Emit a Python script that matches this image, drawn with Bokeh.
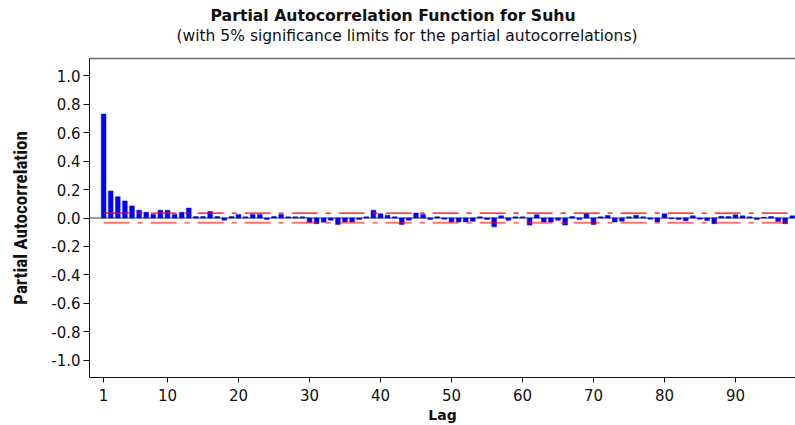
from bokeh.plotting import figure
from bokeh.models import Title, Span, LinearAxis, FixedTicker, Range1d, CustomJSTickFormatter
from bokeh.embed import file_html
from bokeh.resources import INLINE

# ---- data ----
lags = list(range(1, 99))
pacf = [0.73, 0.19, 0.15, 0.12, 0.085, 0.055, 0.04, 0.025, 0.055, 0.055,
        0.025, 0.04, 0.07, 0.01, 0.01, 0.045, 0.01, -0.015, 0.01, 0.025,
        0.008, 0.025, 0.025, -0.01, 0.01, 0.025, 0.008, 0.008, 0.008, -0.03,
        -0.04, -0.03, -0.015, -0.045, -0.028, -0.028, -0.01, 0.008, 0.055, 0.03,
        0.02, 0.008, -0.045, -0.015, 0.035, 0.025, -0.01, 0.008, -0.008, -0.028,
        -0.028, -0.028, -0.023, 0.008, -0.01, -0.062, 0.015, -0.016, 0.008, 0.008,
        -0.05, 0.023, -0.028, -0.028, -0.016, -0.05, 0.01, -0.01, 0.03, -0.045,
        0.008, 0.018, -0.028, -0.023, 0.008, 0.02, 0.008, -0.008, -0.028, 0.03,
        -0.005, -0.01, -0.02, 0.015, -0.008, -0.018, -0.04, 0.012, 0.01, 0.022,
        0.015, 0.008, -0.01, 0.005, 0.01, -0.025, -0.04, 0.015]
sig_limit = 0.034
x_ticks = [1, 10, 20, 30, 40, 50, 60, 70, 80, 90]
y_ticks = [-1.0, -0.8, -0.6, -0.4, -0.2, 0.0, 0.2, 0.4, 0.6, 0.8, 1.0]
title_text = "Partial Autocorrelation Function for Suhu"
subtitle_text = "(with 5% significance limits for the partial autocorrelations)"
x_label = "Lag"
y_label = "Partial Autocorrelation"

x_end = 98.45
p = figure(width=795, height=425, output_backend="svg", toolbar_location=None,
           x_range=Range1d(-0.99, x_end), y_range=Range1d(-1.12, 1.12),
           min_border_left=89, min_border_right=0, min_border_bottom=45,
           min_border_top=58)
p.title = None
p.outline_line_color = None
p.grid.visible = False
p.background_fill_color = "white"
p.border_fill_color = "white"

# zero reference line
p.add_layout(Span(location=0, dimension="width", line_color="#7a7a7a",
                  line_width=1.5, level="underlay"))

# bars
p.vbar(x=lags, top=pacf, bottom=0, width=0.66, fill_color="#0000ff",
       line_color="#0000ff", line_width=0.5)

# significance limits
p.line(x=[lags[0], x_end], y=[sig_limit, sig_limit], line_color="#ff0000",
       line_width=1.3, line_dash="26 8 5 8")
p.line(x=[lags[0], x_end], y=[-sig_limit, -sig_limit], line_color="#ff0000",
       line_alpha=0.55, line_width=2, line_dash="26 8 5 8")

# axes
xa = p.xaxis[0]
xa.ticker = FixedTicker(ticks=x_ticks)
xa.axis_label = x_label
xa.axis_label_text_font = "DejaVu Sans"
xa.axis_label_text_font_style = "bold"
xa.axis_label_text_font_size = "14px"
xa.axis_label_text_color = "#111111"
xa.axis_label_standoff = 3
xa.major_label_text_font = "DejaVu Sans"
xa.major_label_text_font_size = "15px"
xa.major_label_text_color = "#111111"
xa.major_label_standoff = 6
xa.major_tick_in = 0
xa.major_tick_out = 5
xa.minor_tick_line_color = None
xa.axis_line_color = "#111111"
xa.major_tick_line_color = "#111111"

ya = p.yaxis[0]
ya.ticker = FixedTicker(ticks=y_ticks)
ya.formatter = CustomJSTickFormatter(code="return tick.toFixed(1);")
ya.axis_label = y_label
ya.axis_label_text_font = "Roboto Condensed"
ya.axis_label_text_font_style = "bold"
ya.axis_label_text_font_size = "19px"
ya.axis_label_text_color = "#111111"
ya.axis_label_standoff = 16
ya.major_label_text_font = "DejaVu Sans"
ya.major_label_text_font_size = "15px"
ya.major_label_text_color = "#111111"
ya.major_label_standoff = 3
ya.major_tick_in = 0
ya.major_tick_out = 6
ya.minor_tick_line_color = None
ya.axis_line_color = "#111111"
ya.major_tick_line_color = "#111111"

# top frame line; a blank white label reserves the gap below the subtitle
top = LinearAxis(ticker=FixedTicker(ticks=[x_ticks[0]]), major_tick_out=0, major_tick_in=0,
                 minor_tick_out=0, minor_tick_in=0, major_label_standoff=2,
                 formatter=CustomJSTickFormatter(code="return '\u00a0';"),
                 major_label_text_font_size="8px", major_label_text_color="#ffffff",
                 major_tick_line_color=None,
                 axis_line_color="#6e6e6e", axis_line_width=1.5)
p.add_layout(top, "above")

p.add_layout(Title(text=subtitle_text, align="left", offset=87, standoff=0,
                   text_font="DejaVu Sans", text_font_size="15.5px",
                   text_font_style="normal", text_color="#111111"), "above")
p.add_layout(Title(text=title_text, align="left", offset=121, standoff=0,
                   text_font="DejaVu Sans", text_font_size="15.7px",
                   text_font_style="bold", text_color="#111111"), "above")

open("out.html", "w").write(file_html(p, INLINE))
